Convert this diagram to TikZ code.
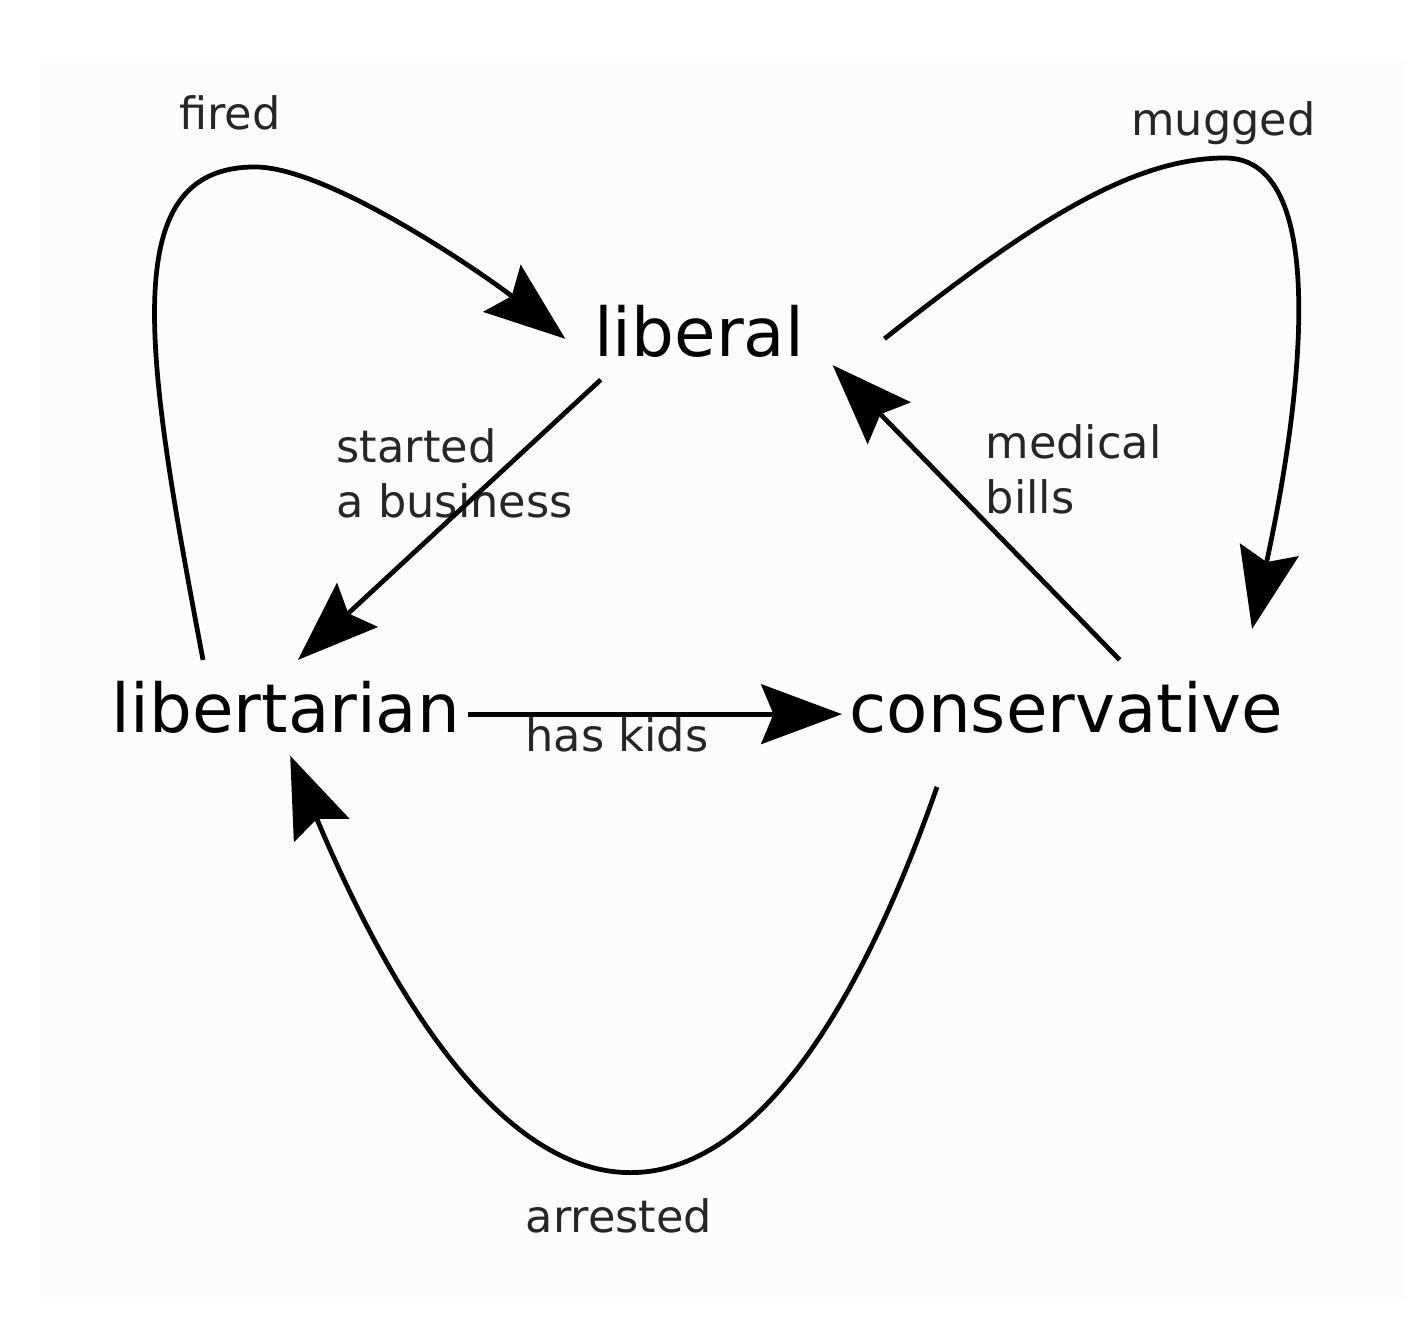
\documentclass[tikz,border=0pt]{standalone}
\usepackage{fontspec}
\setmainfont{DejaVu Sans}
\usepackage{tikz}
\usetikzlibrary{arrows.meta}
\tikzset{>={Stealth[length=23pt,width=17pt,inset=3.5pt]}}
\tikzset{
  party/.style={
    font=\fontsize{19.2}{23}\selectfont,
    inner xsep=2pt, inner ysep=6pt, anchor=base
  }}
\tikzset{
  event/.style={
    font=\fontsize{12.7}{15.6}\selectfont, text=black!85, inner sep=0pt
  }}
\tikzset{
  turn/.style={->, line width=1.35pt}}

\begin{document}
\begin{tikzpicture}
    \useasboundingbox (0,0) rectangle (14.22,13.34);
    \fill[black!1] (0.40,0.34) rectangle (14.05,12.74);
    \node[party, inner xsep=8pt] (lib) at (6.99,9.77) {liberal};
    \node[party] (ltn) at (2.86,6.01) {libertarian};
    \node[party] (con) at (10.665,6.01) {conservative};

    \node[event, anchor=base] (fired) at (2.30,12.04) {fired};
    \node[event, anchor=base] (mugged) at (12.235,11.98) {mugged};
    \node[event, anchor=north west, align=left] (biz) at (3.36,9.06) {started\\a business};
    \node[event, anchor=north west, align=left] (bills) at (9.85,9.10) {medical\\bills};
    \node[event, anchor=base] (kids) at (6.17,5.82) {has kids};
    \node[event, anchor=base] (arrest) at (6.19,1.01) {arrested};

    \draw[turn] (ltn.150) .. controls (1.45,9.80) and (1.15,11.67) .. (2.55,11.67)
	.. controls (3.30,11.67) and (4.89,10.56) .. (lib.183);
    \draw[turn, shorten <=18.8pt, shorten >=9pt] (lib.south east)
	.. controls (10.27,11.08) and (11.30,11.76) .. (12.25,11.76)
	.. controls (13.35,11.76) and (12.98,9.16) .. (con.15);
    \draw[turn] (lib.206) -- (ltn.76);
    \draw[turn] (con.42) -- (lib.-14);
    \draw[turn] (ltn.-2) -- (ltn.-2 -| con.west);
    \draw[turn, shorten <=9.4pt] (con.202) .. controls (7.59,0.38) and (5.18,0.38) .. (ltn.-85);
\end{tikzpicture}
\end{document}
